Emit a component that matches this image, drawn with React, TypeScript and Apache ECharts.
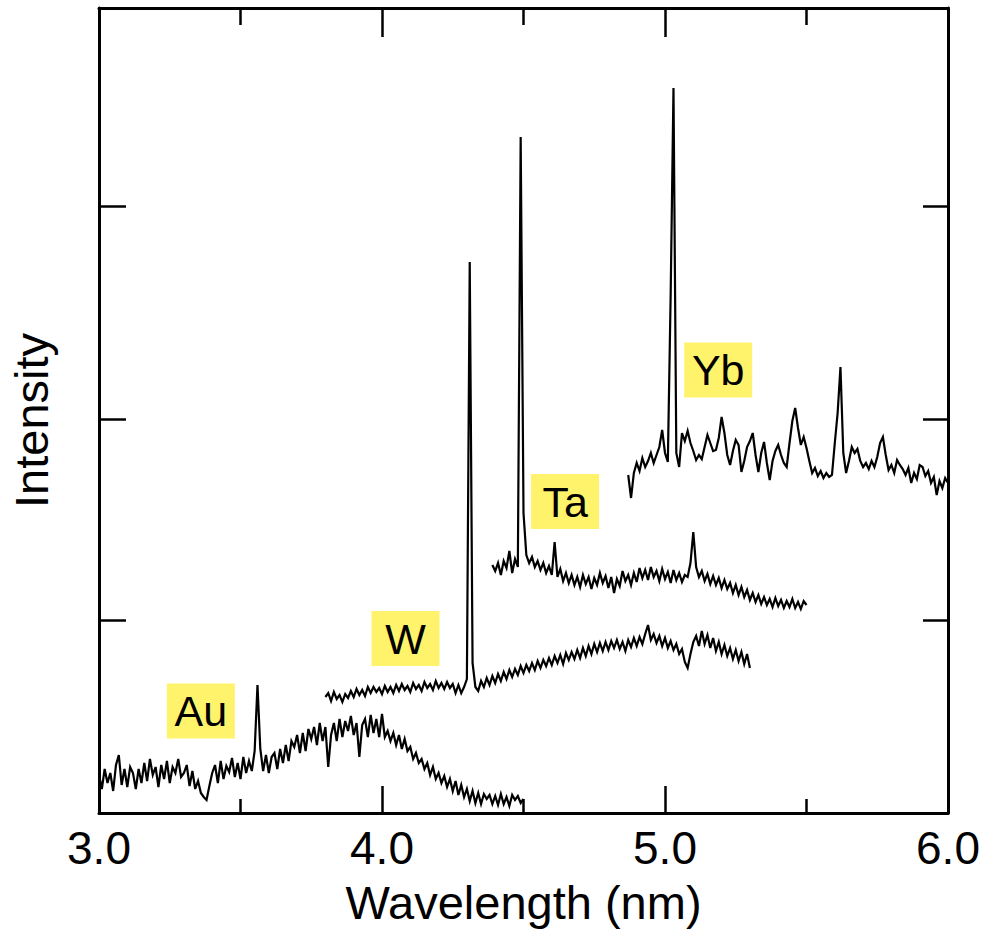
import React, { useEffect, useRef } from "react";
import * as echarts from "echarts";

// Wavelength grid (nm): each spectrum starts at its own wavelength, sampled every 0.01 nm
const sampleStep = 0.01;

// Au spectrum, 3.00 – 4.50 nm
const auStart = 3.0;
const auIntensity = [
  38, 24, 44, 30, 40, 22, 48, 58, 28, 44,
  26, 46, 40, 24, 44, 30, 50, 32, 54, 38,
  46, 26, 48, 34, 52, 30, 46, 40, 54, 36,
  40, 48, 27, 42, 24, 32, 20, 16, 13, 27,
  40, 48, 30, 52, 34, 47, 41, 55, 36, 50,
  34, 56, 40, 52, 42, 62, 128, 64, 42, 58,
  40, 56, 60, 44, 64, 50, 68, 52, 72, 66,
  78, 60, 80, 62, 84, 74, 86, 68, 90, 72,
  86, 46, 78, 90, 72, 94, 76, 92, 82, 97,
  78, 90, 56, 88, 94, 76, 98, 80, 94, 76,
  99, 76, 82, 72, 80, 68, 78, 64, 74, 62,
  66, 54, 60, 50, 54, 44, 50, 38, 46, 34,
  40, 30, 37, 26, 34, 22, 32, 18, 28, 16,
  24, 12, 22, 10, 20, 9, 19, 14, 18, 9,
  17, 8, 19, 9, 16, 7, 18, 13, 17, 10,
  14,
];

// W spectrum, 3.80 – 5.30 nm
const wStart = 3.8;
const wIntensity = [
  116, 120, 112, 121, 114, 118, 111, 119, 115, 122,
  116, 124, 118, 123, 117, 126, 120, 126, 121, 125,
  119, 127, 121, 126, 120, 128, 122, 129, 123, 127,
  121, 130, 124, 128, 122, 131, 125, 129, 123, 132,
  125, 130, 124, 131, 125, 129, 120, 128, 120, 126,
  134, 551, 150, 126, 122, 132, 126, 135, 128, 137,
  130, 139, 132, 141, 134, 143, 136, 144, 138, 147,
  140, 148, 142, 150, 143, 152, 145, 153, 147, 155,
  148, 157, 150, 158, 149, 160, 153, 161, 154, 163,
  155, 165, 157, 167, 159, 169, 161, 170, 162, 171,
  163, 172, 165, 173, 164, 171, 162, 173, 166, 175,
  167, 176, 169, 179, 188, 173, 179, 170, 177, 167,
  175, 165, 172, 163, 169, 159, 164, 151, 145, 159,
  171, 177, 167, 182, 169, 178, 165, 175, 162, 171,
  159, 168, 157, 165, 154, 163, 152, 161, 149, 159,
  145,
];

// Ta spectrum, 4.39 – 5.50 nm
const taStart = 4.39;
const taIntensity = [
  248,
  242, 250, 238, 252, 245, 262, 240, 254, 246, 676,
  300, 258, 250, 256, 246, 252, 243, 250, 240, 247,
  238, 271, 236, 244, 232, 240, 230, 238, 228, 236,
  226, 238, 229, 236, 224, 235, 228, 240, 230, 237,
  225, 236, 220, 234, 227, 242, 232, 238, 228, 240,
  231, 245, 235, 243, 233, 246, 236, 242, 232, 244,
  234, 241, 230, 243, 233, 240, 231, 238, 236, 250,
  281, 246, 236, 242, 232, 239, 229, 237, 228, 235,
  225, 233, 224, 230, 220, 228, 218, 226, 216, 223,
  213, 220, 211, 218, 209, 216, 208, 214, 206, 215,
  207, 213, 205, 212, 206, 214, 205, 211, 204, 212,
  208,
];

// Yb spectrum, 4.87 – 6.00 nm
const ybStart = 4.87;
const ybIntensity = [
  338, 315, 340,
  350, 342, 355, 346, 352, 360, 350, 358, 366, 383,
  360, 351, 518, 725, 360, 346, 380, 372, 382, 370,
  362, 353, 358, 354, 366, 378, 370, 362, 363, 375,
  396, 380, 358, 348, 362, 373, 368, 341, 352, 366,
  372, 380, 358, 341, 360, 371, 350, 333, 352, 362,
  368, 358, 350, 346, 370, 392, 405, 385, 368, 376,
  365, 352, 340, 345, 337, 342, 335, 340, 336, 338,
  370, 400, 446, 360, 340, 352, 366, 360, 364, 352,
  346, 350, 344, 352, 346, 356, 370, 376, 358, 343,
  348, 340, 353, 348, 344, 338, 345, 330, 340, 334,
  348, 346, 337, 342, 330, 336, 318, 332, 325, 335,
  330,
];

// Axis ranges and ticks
const xMin = 3.0;
const xMax = 6.0;
const xInterval = 1.0;
const yMin = 0;
const yMax = 805;
const yTickValues = [193, 394, 607];

// Element labels (name, wavelength, intensity of label centre)
const labelNames = ["Au", "W", "Ta", "Yb"];
const labelWavelengths = [3.36, 4.083, 4.647, 5.188];
const labelIntensities = [102, 174.5, 311.5, 443];

const FONT = "'Liberation Sans', Arial, Helvetica, sans-serif";

function toSeriesData(start: number, values: number[]) {
  return values.map((v, i) => [Number((start + i * sampleStep).toFixed(2)), v]);
}

export default function App() {
  const ref = useRef<HTMLDivElement>(null);

  useEffect(() => {
    if (!ref.current) return;
    const chart = echarts.init(ref.current, null, { renderer: "svg" });

    const axisLineStyle = { color: "#000", width: 3 };
    const tickLineStyle = { color: "#000", width: 2.5 };

    const lineSeries = (name: string, start: number, values: number[]) => ({
      name,
      type: "line",
      xAxisIndex: 0,
      yAxisIndex: 0,
      data: toSeriesData(start, values),
      showSymbol: false,
      symbol: "none",
      smooth: false,
      lineStyle: { color: "#000", width: 2.2, join: "miter", miterLimit: 4 },
      itemStyle: { color: "#000" },
      z: 3,
    });

    const option: any = {
      animation: false,
      backgroundColor: "#fff",
      grid: { left: 99, right: 36, top: 8, bottom: 119, containLabel: false },
      xAxis: [
        {
          type: "value",
          min: xMin,
          max: xMax,
          interval: xInterval,
          position: "bottom",
          name: "Wavelength (nm)",
          nameLocation: "middle",
          nameGap: 66,
          nameTextStyle: { fontSize: 47, color: "#000", fontFamily: FONT },
          axisLine: { show: true, onZero: false, lineStyle: axisLineStyle },
          axisTick: { show: true, inside: true, length: 27, lineStyle: tickLineStyle },
          minorTick: { show: true, splitNumber: 2, length: 14, lineStyle: tickLineStyle },
          axisLabel: {
            show: true,
            formatter: (v: number) => v.toFixed(1),
            fontSize: 46,
            color: "#000",
            fontFamily: FONT,
            margin: 12,
          },
          splitLine: { show: false },
          minorSplitLine: { show: false },
        },
        {
          type: "value",
          min: xMin,
          max: xMax,
          interval: xInterval,
          position: "top",
          axisLine: { show: true, onZero: false, lineStyle: axisLineStyle },
          axisTick: { show: true, inside: true, length: 29, lineStyle: tickLineStyle },
          minorTick: { show: true, splitNumber: 2, length: 17, lineStyle: tickLineStyle },
          axisLabel: { show: false },
          splitLine: { show: false },
          minorSplitLine: { show: false },
        },
      ],
      yAxis: [
        {
          type: "value",
          min: yMin,
          max: yMax,
          position: "left",
          name: "Intensity",
          nameLocation: "middle",
          nameGap: 44,
          nameTextStyle: { fontSize: 47, color: "#000", fontFamily: FONT, padding: [0, 20, 0, 0] },
          axisLine: { show: true, onZero: false, lineStyle: axisLineStyle },
          axisTick: { show: true, inside: true, length: 27, lineStyle: tickLineStyle, customValues: yTickValues },
          axisLabel: { show: false },
          splitLine: { show: false },
        },
        {
          type: "value",
          min: yMin,
          max: yMax,
          position: "right",
          axisLine: { show: true, onZero: false, lineStyle: axisLineStyle },
          axisTick: { show: true, inside: true, length: 25, lineStyle: tickLineStyle, customValues: yTickValues },
          axisLabel: { show: false },
          splitLine: { show: false },
        },
      ],
      series: [
        lineSeries("Au", auStart, auIntensity),
        lineSeries("W", wStart, wIntensity),
        lineSeries("Ta", taStart, taIntensity),
        lineSeries("Yb", ybStart, ybIntensity),
        {
          name: "labels",
          type: "scatter",
          xAxisIndex: 0,
          yAxisIndex: 0,
          symbol: "rect",
          symbolSize: [68, 55],
          itemStyle: { color: "#FFF36B", opacity: 1 },
          z: 2,
          label: {
            show: true,
            position: "inside",
            formatter: "{b}",
            fontSize: 43,
            color: "#000",
            opacity: 1,
            fontFamily: FONT,
          },
          emphasis: { disabled: true },
          data: labelNames.map((n, i) => ({ name: n, value: [labelWavelengths[i], labelIntensities[i]] })),
        },
      ],
    };

    chart.setOption(option);
    return () => chart.dispose();
  }, []);

  return (
    <div
      ref={ref}
      style={{ position: "fixed", left: 0, top: 0, width: 984, height: 932, background: "#fff" }}
    />
  );
}
